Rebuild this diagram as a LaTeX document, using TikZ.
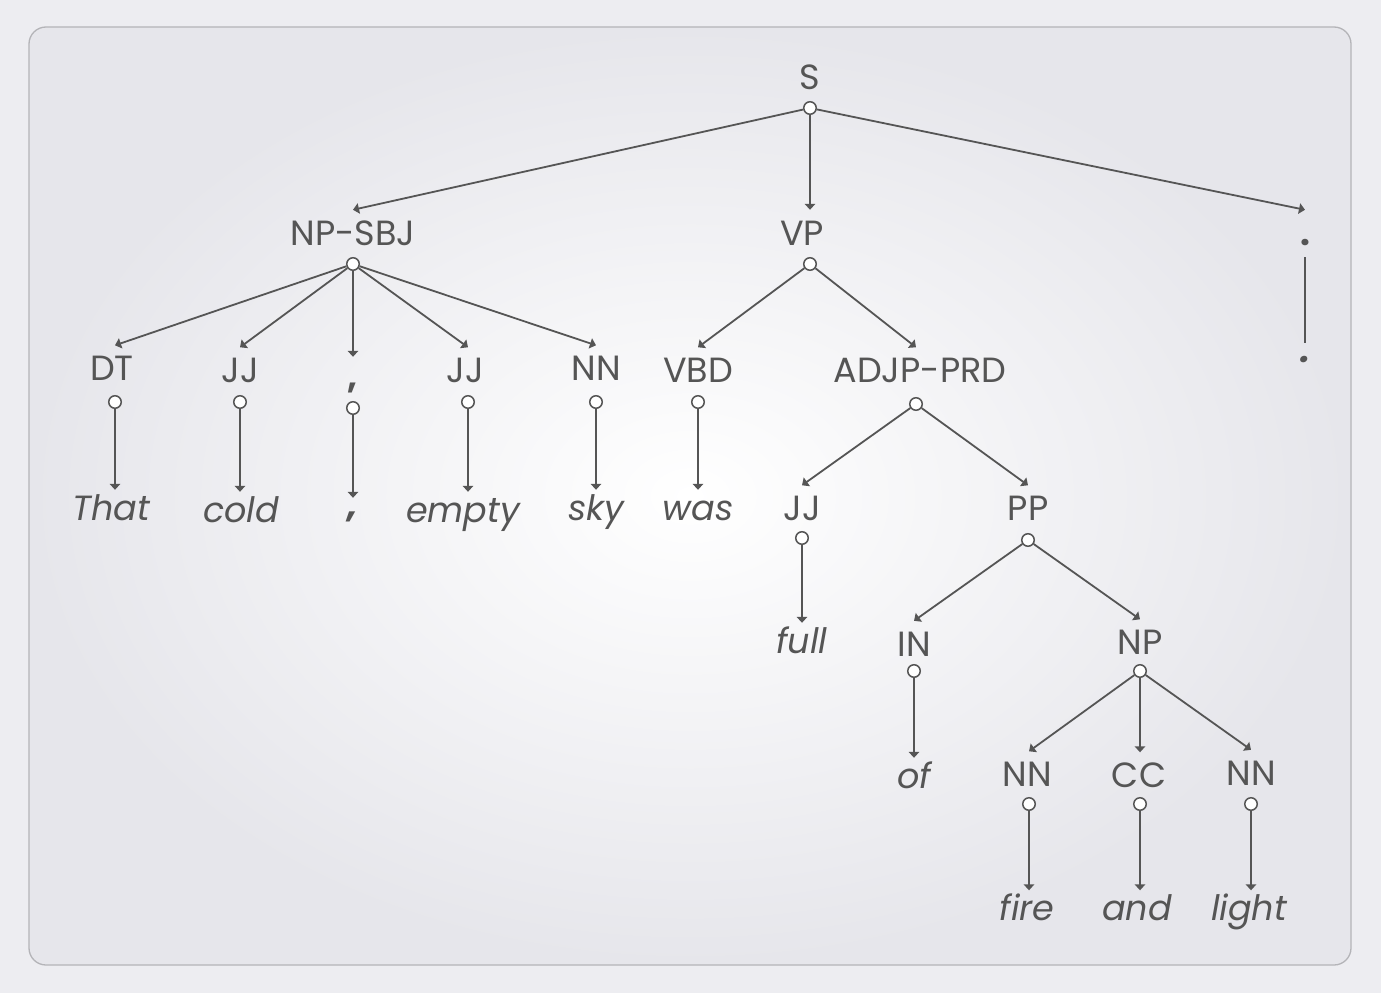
\documentclass[tikz,border=0pt]{standalone}
\usepackage{fontspec}
\setmainfont{Poppins}
\usetikzlibrary{arrows.meta}
\definecolor{ink}{HTML}{555555}
\definecolor{framec}{HTML}{B4B4B8}
\definecolor{bgc}{HTML}{EDEDF1}
\definecolor{bgout}{HTML}{E6E6EB}
\begin{document}
\begin{tikzpicture}[x=1pt,y=-1pt,
  lab/.style={font=\fontsize{35}{35}\selectfont, text=ink, text height=23pt, text depth=0pt, inner xsep=0pt, inner ysep=12pt},
  leaf/.style={font=\fontsize{35}{35}\selectfont\itshape, text=ink, text height=23pt, text depth=0pt, inner xsep=0pt, inner ysep=7pt},
  knob/.style={circle, draw=ink, fill=white, line width=1.5pt, inner sep=0pt, minimum size=12.5pt},
  edge/.style={draw=ink, line width=1.8pt, -{Triangle[length=6pt,width=10.5pt]}},
  plain/.style={draw=ink, line width=1.8pt}
]
% page and frame
\fill[bgc] (0,0) rectangle (1381,993);
\useasboundingbox (0,0) rectangle (1381,993);
\shade[inner color=white, outer color=bgout, rounded corners=17pt]
  (29,27) rectangle (1351,965);
\draw[framec, line width=1.3pt, rounded corners=17pt] (29,27) rectangle (1351,965);

% ---- labels ----
\node[lab] (S) at (810,78) {S};
\node[knob] (Sc) at (810,108) {};

\node[lab] (NPSBJ) at (353,233.5) {NP-SBJ};
\node[knob] (NPSBJc) at (353,264) {};
\node[lab] (VP) at (802,233.5) {VP};
\node[knob] (VPc) at (810,264) {};
\node[lab] (dotL) at (1305,233.5) {\bfseries .};

\node[lab] (DT) at (112,369) {DT};
\node[knob] (DTc) at (115,402) {};
\node[lab] (JJa) at (240,371) {JJ};
\node[knob] (JJac) at (240,402) {};
\node[lab] (cmL) at (353,380.5) {\raisebox{4pt}{\bfseries ,}};
\node[knob] (cmLc) at (353,408) {};
\node[lab] (JJb) at (465,371) {JJ};
\node[knob] (JJbc) at (468,402) {};
\node[lab] (NNa) at (596,369) {NN};
\node[knob] (NNac) at (596,402) {};
\node[lab] (VBD) at (698,371) {VBD};
\node[knob] (VBDc) at (698,402) {};
\node[lab] (ADJP) at (920,371) {ADJP-PRD};
\node[knob] (ADJPc) at (916,404) {};

\node[lab] (JJc) at (802,509) {JJ};
\node[knob] (JJcc) at (802,538) {};
\node[lab] (PP) at (1028,509) {PP};
\node[knob] (PPc) at (1028,540) {};

\node[lab] (IN) at (914,644.5) {IN};
\node[knob] (INc) at (914,671) {};
\node[lab] (NP) at (1140,643) {NP};
\node[knob] (NPc) at (1140,671) {};

\node[lab] (NNb) at (1027,775) {NN};
\node[knob] (NNbc) at (1029,804) {};
\node[lab] (CC) at (1139,776) {CC};
\node[knob] (CCc) at (1140,804) {};
\node[lab] (NNc) at (1251,773.5) {NN};
\node[knob] (NNcc) at (1251,804) {};

% ---- leaves ----
\node[leaf] (wThat) at (111,508.5) {That};
\node[leaf] (wcold) at (241,510.5) {cold};
\node[leaf] (wcm) at (353,516.5) {\raisebox{11pt}{\bfseries\itshape ,}};
\node[leaf] (wempty) at (463,510.5) {empty};
\node[leaf] (wsky) at (596,508.5) {sky};
\node[leaf] (wwas) at (698,508.5) {was};
\node[leaf] (wdot) at (1305,350.5) {\bfseries .};
\node[leaf] (wfull) at (802,641.5) {full};
\node[leaf] (wof) at (914,776.5) {of};
\node[leaf] (wfire) at (1027,909) {fire};
\node[leaf] (wand) at (1137,909) {and};
\node[leaf] (wlight) at (1249,909) {light};

% ---- connectors ----
\draw[edge] (Sc) -- (NPSBJc |- NPSBJ.north);
\draw[edge] (Sc) -- (VPc |- VP.north);
\draw[edge] (Sc) -- (dotL.north);
\draw[plain] (dotL.south) -- ([yshift=-11pt]wdot.north);

\draw[edge] (NPSBJc) -- (DTc |- DT.north);
\draw[edge] (NPSBJc) -- (JJac |- JJa.north);
\draw[edge] (NPSBJc) -- (cmLc |- cmL.north);
\draw[edge] (NPSBJc) -- (JJbc |- JJb.north);
\draw[edge] (NPSBJc) -- (NNac |- NNa.north);

\draw[edge] (VPc) -- (VBDc |- VBD.north);
\draw[edge] (VPc) -- (ADJPc |- ADJP.north);

\draw[edge] (DTc) -- (DTc |- wThat.north);
\draw[edge] (JJac) -- (JJac |- wcold.north);
\draw[edge] (cmLc) -- (cmLc |- wcm.north);
\draw[edge] (JJbc) -- (JJbc |- wempty.north);
\draw[edge] (NNac) -- (NNac |- wsky.north);
\draw[edge] (VBDc) -- (VBDc |- wwas.north);

\draw[edge] (ADJPc) -- (JJcc |- JJc.north);
\draw[edge] (ADJPc) -- (PPc |- PP.north);
\draw[edge] (JJcc) -- (JJcc |- wfull.north);

\draw[edge] (PPc) -- (INc |- IN.north);
\draw[edge] (PPc) -- (NPc |- NP.north);
\draw[edge] (INc) -- (INc |- wof.north);

\draw[edge] (NPc) -- (NNbc |- NNb.north);
\draw[edge] (NPc) -- (CCc |- CC.north);
\draw[edge] (NPc) -- (NNcc |- NNc.north);

\draw[edge] (NNbc) -- (NNbc |- wfire.north);
\draw[edge] (CCc) -- (CCc |- wand.north);
\draw[edge] (NNcc) -- (NNcc |- wlight.north);
\end{tikzpicture}
\end{document}
